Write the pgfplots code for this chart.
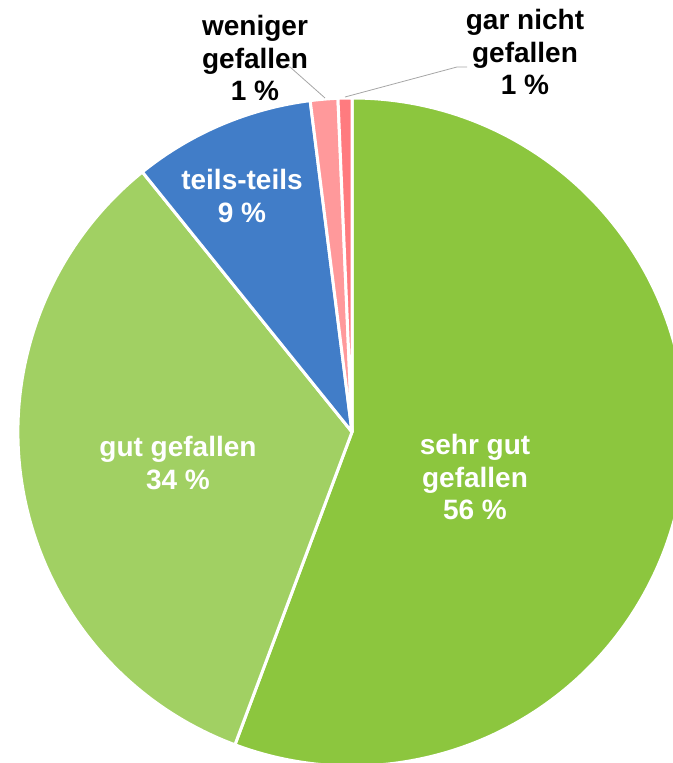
\documentclass[border=0pt]{standalone}
\usepackage{pgfplots}
\pgfplotsset{compat=1.18}
\usepackage{pgfplotstable}
\usepackage{fontspec}
\setmainfont{Liberation Sans}

\definecolor{c0}{HTML}{8CC63E}
\definecolor{c1}{HTML}{A1D063}
\definecolor{c2}{HTML}{417DC8}
\definecolor{c3}{HTML}{FF999B}
\definecolor{c4}{HTML}{FF7B7F}
\definecolor{leader}{HTML}{A6A6A6}

\tikzset{lbl/.style={font=\bfseries\fontsize{28bp}{32.5bp}\selectfont, align=center, inner sep=0pt}}

% share in percent, clockwise from 12 o'clock
\pgfplotstableread{
value
55.7
33.5
8.8
1.33
0.67
}\piedata

\begin{document}
\begin{tikzpicture}
\begin{axis}[
    width=673bp, height=763bp, scale only axis,
    xmin=-352, xmax=321, ymin=-331, ymax=432,
    axis lines=none,
]
\def\angstart{90}
\pgfplotsforeachungrouped \i in {0,...,4}{
    \pgfplotstablegetelem{\i}{value}\of\piedata
    \pgfmathsetmacro\angend{\angstart-3.6*\pgfplotsretval}
    \edef\tmp{\noexpand\fill[fill=c\i, draw=white, line width=3bp, line join=round]
        (axis cs:0,0) -- (axis cs:{334*cos(\angstart)},{334*sin(\angstart)})
        arc[start angle=\angstart, end angle=\angend, radius=334bp] -- cycle;}
    \tmp
    \global\let\angstart\angend
}
% leader lines
\draw[leader, line width=0.8bp] (axis cs:-72,365) -- (axis cs:-62,365) -- (axis cs:-27,334);
\draw[leader, line width=0.8bp] (axis cs:115,365) -- (axis cs:105,365) -- (axis cs:-7,335);
% labels
\node[lbl, text=white] at (axis cs:123,-45) {sehr gut\\gefallen\\56 \%};
\node[lbl, text=white] at (axis cs:-174,-31) {gut gefallen\\34 \%};
\node[lbl, text=white] at (axis cs:-110,236) {teils-teils\\9 \%};
\node[lbl, text=black] at (axis cs:-97,374) {weniger\\gefallen\\1 \%};
\node[lbl, text=black] at (axis cs:173,380) {gar nicht\\gefallen\\1 \%};
\end{axis}
\pgfresetboundingbox
\path[use as bounding box] (current axis.south west) rectangle (current axis.north east);
\end{tikzpicture}
\end{document}
